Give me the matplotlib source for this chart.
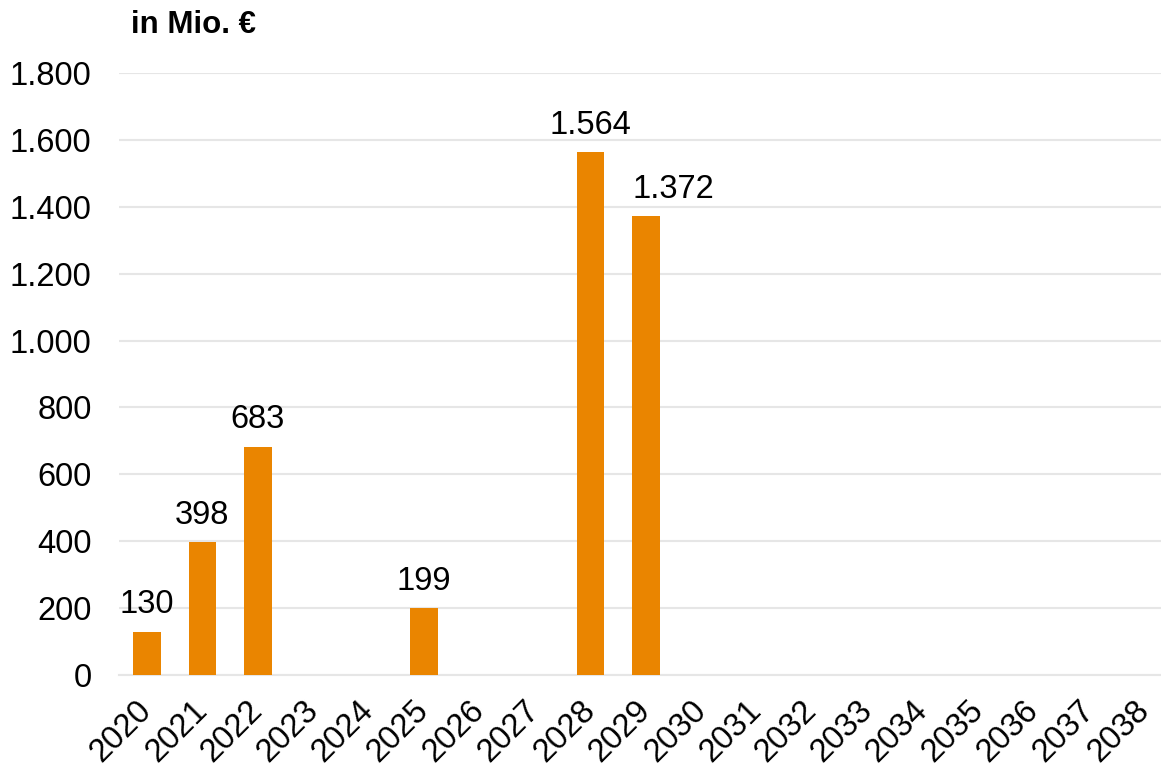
import matplotlib
matplotlib.use("Agg")
import matplotlib.pyplot as plt
from matplotlib.ticker import FuncFormatter

years = [str(y) for y in range(2020, 2039)]
values = [130, 398, 683, 0, 0, 199, 0, 0, 1564, 1372, 0, 0, 0, 0, 0, 0, 0, 0, 0]
yticks = [0, 200, 400, 600, 800, 1000, 1200, 1400, 1600, 1800]

def de(v):
    return f"{int(v):,}".replace(",", ".")

plt.rcParams['font.family'] = ['Liberation Sans', 'DejaVu Sans']
fig = plt.figure(figsize=(11.61, 7.68), dpi=100)
ax = fig.add_axes([119.3/1161, 93/768, 1053/1161, 602/768])

x = list(range(len(years)))
ax.bar(x, values, width=0.5, color='#EA8500', zorder=3)
label_dx = {9: 20}  # shift label right to avoid overlap with neighbour
for xi, v in zip(x, values):
    if v > 0:
        ax.annotate(de(v), (xi, v), xytext=(label_dx.get(xi, 0), 8),
                    textcoords='offset points', ha='center', va='bottom',
                    fontsize=23.5, color='#000000')

ax.set_xlim(-0.5, len(years) - 0.5)
ax.set_ylim(0, 1800)
ax.set_yticks(yticks)
ax.yaxis.set_major_formatter(FuncFormatter(lambda v, p: de(v)))
ax.set_xticks(x)
ax.set_xticklabels(years, rotation=45, ha='right', va='center', rotation_mode='anchor')
ax.tick_params(axis='both', length=0, labelsize=23.5, colors='#000000')
ax.tick_params(axis='y', pad=20)
ax.tick_params(axis='x', pad=22)
ax.grid(axis='y', color='#e6e6e6', linewidth=1.5, zorder=0)
for s in ['top', 'right', 'left']:
    ax.spines[s].set_visible(False)
ax.spines['bottom'].set_color('#e6e6e6')
ax.spines['bottom'].set_linewidth(1.5)

fig.text(131/1161, 1 - 25/768, 'in Mio. €', fontsize=22.5, fontweight='bold',
         ha='left', va='center')

fig.savefig('out.png', dpi=100)
